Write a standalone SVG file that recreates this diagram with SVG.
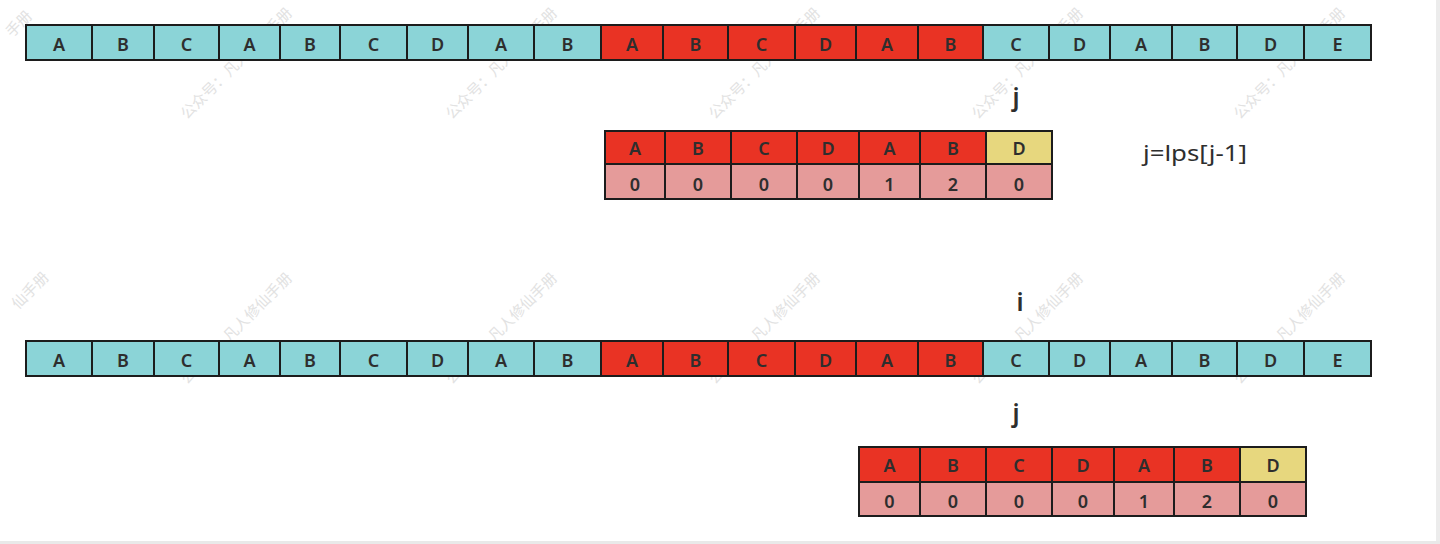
<svg xmlns="http://www.w3.org/2000/svg" width="1440" height="544" viewBox="0 0 1440 544">
<style>
.wm{font-family:"Noto Sans CJK SC",sans-serif;font-size:15px;fill:#e2e2e2}
.c{stroke:#1c1c1c;stroke-width:2}
.cy{fill:#8bd4d7}
.rd{fill:#e93324}
.pk{fill:#e59b9a}
.yl{fill:#e7d77e}
.t{font-family:"Noto Sans","DejaVu Sans",sans-serif;font-size:18px;font-weight:600;fill:#2e2e2e;text-anchor:middle}
.lb{font-family:"Noto Sans","DejaVu Sans",sans-serif;font-size:25px;font-weight:600;fill:#2e2e2e;text-anchor:middle}
.f{font-family:"Noto Sans","DejaVu Sans",sans-serif;font-size:22px;fill:#2e2e2e}
</style>
<rect width="1440" height="544" fill="#ffffff"/>
<rect x="1436" y="0" width="4" height="544" fill="#ececec"/>
<rect x="0" y="541" width="1440" height="3" fill="#e9e9e9"/>
<g id="watermarks">
<text class="wm" x="12" y="38" transform="rotate(-45 12 38)">手册</text>
<text class="wm" x="187" y="120" transform="rotate(-45 187 120)">公众号：凡人修仙手册</text>
<text class="wm" x="452" y="120" transform="rotate(-45 452 120)">公众号：凡人修仙手册</text>
<text class="wm" x="715" y="120" transform="rotate(-45 715 120)">公众号：凡人修仙手册</text>
<text class="wm" x="978" y="120" transform="rotate(-45 978 120)">公众号：凡人修仙手册</text>
<text class="wm" x="1240" y="120" transform="rotate(-45 1240 120)">公众号：凡人修仙手册</text>
<text class="wm" x="18" y="310" transform="rotate(-45 18 310)">仙手册</text>
<text class="wm" x="187" y="385" transform="rotate(-45 187 385)">公众号：凡人修仙手册</text>
<text class="wm" x="452" y="385" transform="rotate(-45 452 385)">公众号：凡人修仙手册</text>
<text class="wm" x="715" y="385" transform="rotate(-45 715 385)">公众号：凡人修仙手册</text>
<text class="wm" x="978" y="385" transform="rotate(-45 978 385)">公众号：凡人修仙手册</text>
<text class="wm" x="1240" y="385" transform="rotate(-45 1240 385)">公众号：凡人修仙手册</text>
</g>
<g id="connectors"></g>
<!-- top text row -->
<g id="s1-0"><rect class="c cy" x="26" y="25" width="66" height="35"/><text class="t" x="59" y="51">A</text></g>
<g id="s1-1"><rect class="c cy" x="92" y="25" width="62" height="35"/><text class="t" x="123" y="51">B</text></g>
<g id="s1-2"><rect class="c cy" x="154" y="25" width="65" height="35"/><text class="t" x="186.5" y="51">C</text></g>
<g id="s1-3"><rect class="c cy" x="219" y="25" width="61" height="35"/><text class="t" x="249.5" y="51">A</text></g>
<g id="s1-4"><rect class="c cy" x="280" y="25" width="60" height="35"/><text class="t" x="310" y="51">B</text></g>
<g id="s1-5"><rect class="c cy" x="340" y="25" width="67" height="35"/><text class="t" x="373.5" y="51">C</text></g>
<g id="s1-6"><rect class="c cy" x="407" y="25" width="61" height="35"/><text class="t" x="437.5" y="51">D</text></g>
<g id="s1-7"><rect class="c cy" x="468" y="25" width="66" height="35"/><text class="t" x="501" y="51">A</text></g>
<g id="s1-8"><rect class="c cy" x="534" y="25" width="67" height="35"/><text class="t" x="567.5" y="51">B</text></g>
<g id="s1-9"><rect class="c rd" x="601" y="25" width="62" height="35"/><text class="t" x="632" y="51">A</text></g>
<g id="s1-10"><rect class="c rd" x="663" y="25" width="65" height="35"/><text class="t" x="695.5" y="51">B</text></g>
<g id="s1-11"><rect class="c rd" x="728" y="25" width="67" height="35"/><text class="t" x="761.5" y="51">C</text></g>
<g id="s1-12"><rect class="c rd" x="795" y="25" width="61" height="35"/><text class="t" x="825.5" y="51">D</text></g>
<g id="s1-13"><rect class="c rd" x="856" y="25" width="62" height="35"/><text class="t" x="887" y="51">A</text></g>
<g id="s1-14"><rect class="c rd" x="918" y="25" width="65" height="35"/><text class="t" x="950.5" y="51">B</text></g>
<g id="s1-15"><rect class="c cy" x="983" y="25" width="66" height="35"/><text class="t" x="1016" y="51">C</text></g>
<g id="s1-16"><rect class="c cy" x="1049" y="25" width="61" height="35"/><text class="t" x="1079.5" y="51">D</text></g>
<g id="s1-17"><rect class="c cy" x="1110" y="25" width="62" height="35"/><text class="t" x="1141" y="51">A</text></g>
<g id="s1-18"><rect class="c cy" x="1172" y="25" width="65" height="35"/><text class="t" x="1204.5" y="51">B</text></g>
<g id="s1-19"><rect class="c cy" x="1237" y="25" width="67" height="35"/><text class="t" x="1270.5" y="51">D</text></g>
<g id="s1-20"><rect class="c cy" x="1304" y="25" width="67" height="35"/><text class="t" x="1337.5" y="51">E</text></g>
<!-- labels -->
<g id="label-j1"><text class="lb" x="1016" y="106">j</text></g>
<g id="label-formula"><text class="f" x="1143" y="161" textLength="104" lengthAdjust="spacingAndGlyphs">j=lps[j-1]</text></g>
<!-- pattern table 1 -->
<g id="p1-0"><rect class="c rd" x="605" y="131" width="60" height="33"/><text class="t" x="635" y="155">A</text></g>
<g id="p1-1"><rect class="c rd" x="665" y="131" width="66" height="33"/><text class="t" x="698" y="155">B</text></g>
<g id="p1-2"><rect class="c rd" x="731" y="131" width="66" height="33"/><text class="t" x="764" y="155">C</text></g>
<g id="p1-3"><rect class="c rd" x="797" y="131" width="62" height="33"/><text class="t" x="828" y="155">D</text></g>
<g id="p1-4"><rect class="c rd" x="859" y="131" width="61" height="33"/><text class="t" x="889.5" y="155">A</text></g>
<g id="p1-5"><rect class="c rd" x="920" y="131" width="66" height="33"/><text class="t" x="953" y="155">B</text></g>
<g id="p1-6"><rect class="c yl" x="986" y="131" width="66" height="33"/><text class="t" x="1019" y="155">D</text></g>
<g id="l1-0"><rect class="c pk" x="605" y="164" width="60" height="35"/><text class="t" x="635" y="191">0</text></g>
<g id="l1-1"><rect class="c pk" x="665" y="164" width="66" height="35"/><text class="t" x="698" y="191">0</text></g>
<g id="l1-2"><rect class="c pk" x="731" y="164" width="66" height="35"/><text class="t" x="764" y="191">0</text></g>
<g id="l1-3"><rect class="c pk" x="797" y="164" width="62" height="35"/><text class="t" x="828" y="191">0</text></g>
<g id="l1-4"><rect class="c pk" x="859" y="164" width="61" height="35"/><text class="t" x="889.5" y="191">1</text></g>
<g id="l1-5"><rect class="c pk" x="920" y="164" width="66" height="35"/><text class="t" x="953" y="191">2</text></g>
<g id="l1-6"><rect class="c pk" x="986" y="164" width="66" height="35"/><text class="t" x="1019" y="191">0</text></g>
<!-- second text row -->
<g id="label-i"><text class="lb" x="1020" y="311">i</text></g>
<g id="s2-0"><rect class="c cy" x="26" y="341" width="66" height="35"/><text class="t" x="59" y="367">A</text></g>
<g id="s2-1"><rect class="c cy" x="92" y="341" width="62" height="35"/><text class="t" x="123" y="367">B</text></g>
<g id="s2-2"><rect class="c cy" x="154" y="341" width="65" height="35"/><text class="t" x="186.5" y="367">C</text></g>
<g id="s2-3"><rect class="c cy" x="219" y="341" width="61" height="35"/><text class="t" x="249.5" y="367">A</text></g>
<g id="s2-4"><rect class="c cy" x="280" y="341" width="60" height="35"/><text class="t" x="310" y="367">B</text></g>
<g id="s2-5"><rect class="c cy" x="340" y="341" width="67" height="35"/><text class="t" x="373.5" y="367">C</text></g>
<g id="s2-6"><rect class="c cy" x="407" y="341" width="61" height="35"/><text class="t" x="437.5" y="367">D</text></g>
<g id="s2-7"><rect class="c cy" x="468" y="341" width="66" height="35"/><text class="t" x="501" y="367">A</text></g>
<g id="s2-8"><rect class="c cy" x="534" y="341" width="67" height="35"/><text class="t" x="567.5" y="367">B</text></g>
<g id="s2-9"><rect class="c rd" x="601" y="341" width="62" height="35"/><text class="t" x="632" y="367">A</text></g>
<g id="s2-10"><rect class="c rd" x="663" y="341" width="65" height="35"/><text class="t" x="695.5" y="367">B</text></g>
<g id="s2-11"><rect class="c rd" x="728" y="341" width="67" height="35"/><text class="t" x="761.5" y="367">C</text></g>
<g id="s2-12"><rect class="c rd" x="795" y="341" width="61" height="35"/><text class="t" x="825.5" y="367">D</text></g>
<g id="s2-13"><rect class="c rd" x="856" y="341" width="62" height="35"/><text class="t" x="887" y="367">A</text></g>
<g id="s2-14"><rect class="c rd" x="918" y="341" width="65" height="35"/><text class="t" x="950.5" y="367">B</text></g>
<g id="s2-15"><rect class="c cy" x="983" y="341" width="66" height="35"/><text class="t" x="1016" y="367">C</text></g>
<g id="s2-16"><rect class="c cy" x="1049" y="341" width="61" height="35"/><text class="t" x="1079.5" y="367">D</text></g>
<g id="s2-17"><rect class="c cy" x="1110" y="341" width="62" height="35"/><text class="t" x="1141" y="367">A</text></g>
<g id="s2-18"><rect class="c cy" x="1172" y="341" width="65" height="35"/><text class="t" x="1204.5" y="367">B</text></g>
<g id="s2-19"><rect class="c cy" x="1237" y="341" width="67" height="35"/><text class="t" x="1270.5" y="367">D</text></g>
<g id="s2-20"><rect class="c cy" x="1304" y="341" width="67" height="35"/><text class="t" x="1337.5" y="367">E</text></g>
<g id="label-j2"><text class="lb" x="1016" y="422">j</text></g>
<!-- pattern table 2 -->
<g id="p2-0"><rect class="c rd" x="859" y="447" width="61" height="35"/><text class="t" x="889.5" y="472">A</text></g>
<g id="p2-1"><rect class="c rd" x="920" y="447" width="66" height="35"/><text class="t" x="953" y="472">B</text></g>
<g id="p2-2"><rect class="c rd" x="986" y="447" width="66" height="35"/><text class="t" x="1019" y="472">C</text></g>
<g id="p2-3"><rect class="c rd" x="1052" y="447" width="62" height="35"/><text class="t" x="1083" y="472">D</text></g>
<g id="p2-4"><rect class="c rd" x="1114" y="447" width="60" height="35"/><text class="t" x="1144" y="472">A</text></g>
<g id="p2-5"><rect class="c rd" x="1174" y="447" width="66" height="35"/><text class="t" x="1207" y="472">B</text></g>
<g id="p2-6"><rect class="c yl" x="1240" y="447" width="66" height="35"/><text class="t" x="1273" y="472">D</text></g>
<g id="l2-0"><rect class="c pk" x="859" y="482" width="61" height="34"/><text class="t" x="889.5" y="508">0</text></g>
<g id="l2-1"><rect class="c pk" x="920" y="482" width="66" height="34"/><text class="t" x="953" y="508">0</text></g>
<g id="l2-2"><rect class="c pk" x="986" y="482" width="66" height="34"/><text class="t" x="1019" y="508">0</text></g>
<g id="l2-3"><rect class="c pk" x="1052" y="482" width="62" height="34"/><text class="t" x="1083" y="508">0</text></g>
<g id="l2-4"><rect class="c pk" x="1114" y="482" width="60" height="34"/><text class="t" x="1144" y="508">1</text></g>
<g id="l2-5"><rect class="c pk" x="1174" y="482" width="66" height="34"/><text class="t" x="1207" y="508">2</text></g>
<g id="l2-6"><rect class="c pk" x="1240" y="482" width="66" height="34"/><text class="t" x="1273" y="508">0</text></g>
</svg>
